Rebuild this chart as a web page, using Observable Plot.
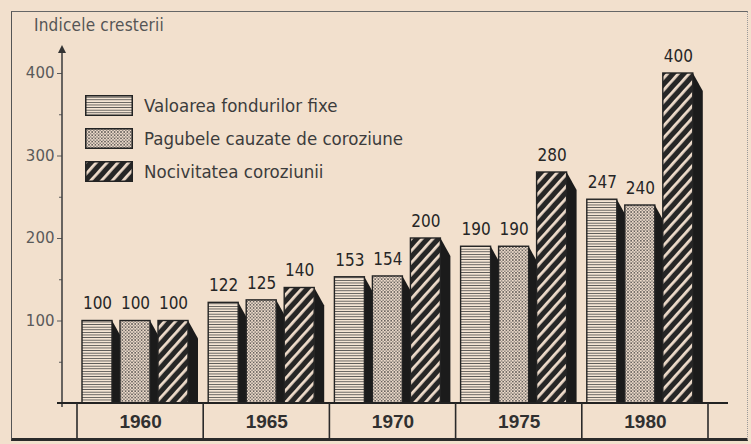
<!DOCTYPE html>
<html><head><meta charset="utf-8">
<script src="https://cdn.jsdelivr.net/npm/d3@7"></script>
<script src="https://cdn.jsdelivr.net/npm/@observablehq/plot@0.6"></script>
<style>
body{margin:0;background:#f2e0cd;}
#wrap{position:relative;width:751px;height:444px;overflow:hidden;background:#f2e0cd;}
#wrap svg.plot{position:absolute;left:0;top:0;}
#frame{position:absolute;left:11px;top:11px;width:737px;height:430px;border-left:1.5px solid #555;border-top:1.5px solid #666;border-right:1px dotted #999;border-bottom:3px solid #2a2a2a;box-sizing:border-box;pointer-events:none;}
#title{position:absolute;left:34px;top:15px;font-family:"DejaVu Sans Condensed","DejaVu Sans",sans-serif;font-stretch:condensed;font-size:17px;color:#555;letter-spacing:0.2px;}
.lg{position:absolute;left:85px;height:22px;display:flex;align-items:center;}
.lg svg{display:block;}
.lg span{margin-left:11px;font-family:"DejaVu Sans Condensed","DejaVu Sans",sans-serif;font-stretch:condensed;font-size:18.5px;color:#3c3c3c;white-space:nowrap;}
</style>
</head><body>
<div id="wrap"><div id="frame"></div><div id="title">Indicele cresterii</div></div>
<script>
const years = ["1960", "1965", "1970", "1975", "1980"];
const seriesNames = ["Valoarea fondurilor fixe", "Pagubele cauzate de coroziune", "Nocivitatea coroziunii"];
const valoarea = [100, 122, 153, 190, 247];
const pagubele = [100, 125, 154, 190, 240];
const nocivitatea = [100, 140, 200, 280, 400];
const yTicks = [100, 200, 300, 400];
const yMinorTicks = [50, 150, 250, 350];

const seriesValues = [valoarea, pagubele, nocivitatea];
const patternIds = ["pat-h", "pat-d", "pat-s"];
const rows = years.flatMap((yr, i) => seriesValues.map((vals, s) => ({year: yr, s, v: vals[i]})));

const xRange = [77, 708];
const bw = (xRange[1] - xRange[0]) / years.length;
const barW = 30, barGap = 38, barOff = 5;
const ink = "#232323";

function defsMark() {
  const g = d3.create("svg:g");
  const defs = g.append("defs");
  const ph = defs.append("pattern").attr("id", "pat-h").attr("patternUnits", "userSpaceOnUse").attr("width", 6).attr("height", 2.6);
  ph.append("rect").attr("width", 6).attr("height", 2.6).attr("fill", "#f4e5d4");
  ph.append("rect").attr("y", 1.8).attr("width", 6).attr("height", 0.8).attr("fill", "#454545");
  const pd = defs.append("pattern").attr("id", "pat-d").attr("patternUnits", "userSpaceOnUse").attr("width", 3.2).attr("height", 3.2);
  pd.append("rect").attr("width", 3.2).attr("height", 3.2).attr("fill", "#efdccb");
  pd.append("circle").attr("cx", 0.8).attr("cy", 0.8).attr("r", 0.8).attr("fill", "#3a3a3a");
  pd.append("circle").attr("cx", 2.4).attr("cy", 2.4).attr("r", 0.7).attr("fill", "#555");
  const ps = defs.append("pattern").attr("id", "pat-s").attr("patternUnits", "userSpaceOnUse").attr("width", 8).attr("height", 8).attr("patternTransform", "rotate(42)");
  ps.append("rect").attr("width", 8).attr("height", 8).attr("fill", "#262626");
  ps.append("rect").attr("x", 0).attr("width", 2.8).attr("height", 8).attr("fill", "#efdccb");
  return g.node();
}

function shadows(index, scales) {
  const x = scales.x, y = scales.y;
  const y0 = y(0);
  const g = d3.create("svg:g");
  for (const d of rows) {
    const xl = x(d.year) + barOff + barGap * d.s;
    const xr = xl + barW;
    const yt = y(d.v);
    g.append("path")
      .attr("d", `M${xr},${yt}L${xr + 10},${yt + 18}L${xr + 10},${y0}L${xr},${y0}Z`)
      .attr("fill", "#1b1b1b");
  }
  return g.node();
}

function frameParts(index, scales, values, dimensions) {
  const x = scales.x, y = scales.y;
  const b = typeof x.bandwidth === "function" ? x.bandwidth() : bw;
  const y0 = y(0);
  const ml = dimensions.marginLeft;
  const g = d3.create("svg:g");
  g.append("line").attr("x1", ml).attr("x2", ml).attr("y1", y0 + 4).attr("y2", y(400) - 22)
    .attr("stroke", "#444").attr("stroke-width", 1.6);
  g.append("path").attr("d", `M${ml},${y(400) - 28}L${ml - 4},${y(400) - 20}L${ml + 4},${y(400) - 20}Z`).attr("fill", "#333");
  const xEnd = x(years[years.length - 1]) + b;
  g.append("line").attr("x1", ml - 5).attr("x2", xEnd + 20).attr("y1", y0).attr("y2", y0)
    .attr("stroke", "#222").attr("stroke-width", 2);
  const bounds = years.map(yr => x(yr)).concat([xEnd]);
  for (const bx of bounds) {
    g.append("line").attr("x1", bx).attr("x2", bx).attr("y1", y0).attr("y2", dimensions.height - 4)
      .attr("stroke", "#2a2a2a").attr("stroke-width", 1.6);
  }
  return g.node();
}

const marks = [defsMark, shadows];
seriesValues.forEach((vals, s) => {
  const data = rows.filter(d => d.s === s);
  const left = barOff + barGap * s;
  marks.push(Plot.barY(data, {
    x: "year", y: "v", fill: `url(#${patternIds[s]})`, stroke: ink, strokeWidth: 1.4,
    insetLeft: left, insetRight: bw - left - barW
  }));
  marks.push(Plot.text(data, {
    x: "year", y: "v", text: d => String(d.v), dx: left + barW / 2 - bw / 2, dy: -17,
    fontSize: 17, fill: "#262626", fontFamily: "'DejaVu Sans Condensed','DejaVu Sans',sans-serif", fontStretch: "condensed"
  }));
});
marks.push(Plot.axisY(yTicks, {anchor: "left", label: null, tickSize: 5, tickPadding: 3, fontSize: 15, color: "#5a5a5a", fontFamily: "'DejaVu Sans',sans-serif"}));
marks.push(Plot.axisY(yMinorTicks, {anchor: "left", label: null, tickSize: 3, tickFormat: () => "", color: "#5a5a5a"}));
marks.push(Plot.text(years, {x: d => d, frameAnchor: "bottom", dy: 24, text: d => d, fontSize: 19, fontWeight: "bold", fill: "#303030", fontFamily: "'Liberation Sans',Arial,sans-serif"}));
marks.push(frameParts);

const chart = Plot.plot({
  width: 751, height: 444,
  marginLeft: 62, marginRight: 43, marginTop: 73, marginBottom: 41,
  style: {background: "transparent", overflow: "visible"},
  x: {type: "band", domain: years, range: xRange, padding: 0, round: false, axis: null, label: null},
  y: {domain: [0, 400], range: [403, 73], axis: null, label: null},
  marks
});
chart.classList.add("plot");
const wrap = document.getElementById("wrap");
wrap.insertBefore(chart, document.getElementById("frame"));

seriesNames.forEach((name, s) => {
  const row = document.createElement("div");
  row.className = "lg";
  row.style.top = (94 + 33 * s) + "px";
  row.innerHTML = `<svg width="48" height="21"><rect x="0.75" y="0.75" width="46.5" height="19.5" fill="url(#${patternIds[s]})" stroke="${ink}" stroke-width="1.5"/></svg><span>${name}</span>`;
  wrap.appendChild(row);
});
</script>
</body></html>
